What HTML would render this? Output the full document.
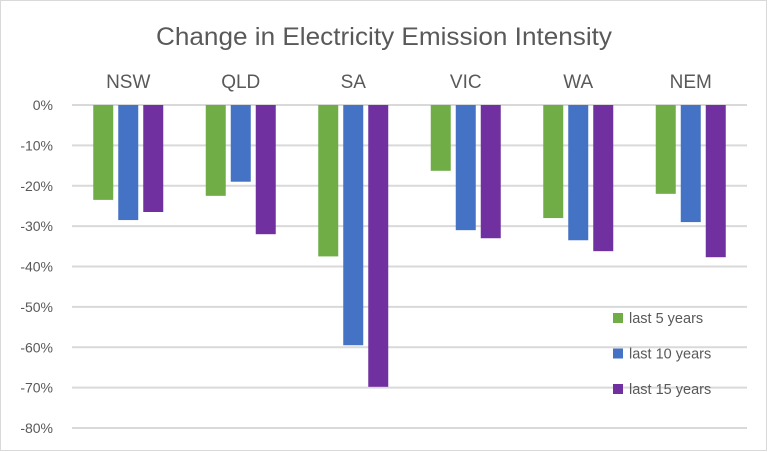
<!DOCTYPE html>
<html><head><meta charset="utf-8"><style>
body{margin:0;background:#fff}
svg{display:block;font-family:"Liberation Sans",sans-serif}
</style></head><body>
<svg id="c" width="769" height="452">
<rect x="0.5" y="0.5" width="766" height="450" fill="#fff" stroke="#d9d9d9"/>
<text x="384" y="45" text-anchor="middle" font-size="25" textLength="456" lengthAdjust="spacingAndGlyphs" fill="#595959">Change in Electricity Emission Intensity</text>
<g id="grid"></g><g id="bars"></g><g id="labels"></g><g id="legend"></g>
</svg>
<script>
const categories=["NSW","QLD","SA","VIC","WA","NEM"];
const series=["last 5 years","last 10 years","last 15 years"];
const last5=[-23.5,-22.5,-37.5,-16.3,-28,-22];
const last10=[-28.5,-19,-59.5,-31,-33.5,-29];
const last15=[-26.5,-32,-69.8,-33,-36.2,-37.7];
const yTicks=[0,-10,-20,-30,-40,-50,-60,-70,-80];
const colors=["#70ad47","#4472c4","#7030a0"];
const NS="http://www.w3.org/2000/svg";
const x0=72,x1=747,y0=105,y80=428;
const y=v=>y0+(-v)/80*(y80-y0);
const cw=(x1-x0)/categories.length;
function mk(t,a,p){const e=document.createElementNS(NS,t);for(const k in a)e.setAttribute(k,a[k]);p.appendChild(e);return e;}
const g=document.getElementById('grid');
yTicks.forEach(v=>{
 const l=mk('line',{x1:x0,x2:x1,y1:y(v),y2:y(v),stroke:'#d9d9d9','stroke-width':2},g);
 
 
 const t=mk('text',{x:53,y:y(v)+5,'text-anchor':'end','font-size':14,fill:'#595959'},g);
 t.textContent=v+'%';
 
 
});
const data=[last5,last10,last15];
const b=document.getElementById('bars'),lb=document.getElementById('labels');
categories.forEach((c,i)=>{
 const cx=x0+cw*(i+0.5);
 const t=mk('text',{x:cx,y:88,'text-anchor':'middle','font-size':19,fill:'#595959'},lb);
 t.textContent=c;
 
 
 data.forEach((s,j)=>{
  const bx=cx-35+j*25;
  const r=mk('rect',{x:bx,y:y0,width:20,height:y(s[i])-y0,fill:colors[j]},b);
  
  
 });
});
const lg=document.getElementById('legend');
series.forEach((s,j)=>{
 const yy=318+j*35.5;
 const r=mk('rect',{x:613,y:yy-5,width:10,height:10,fill:colors[j]},lg);
 
 
 const t=mk('text',{x:629,y:yy+5,'font-size':14.5,fill:'#595959'},lg);
 t.textContent=s;
 
 
});
</script>
</body></html>
